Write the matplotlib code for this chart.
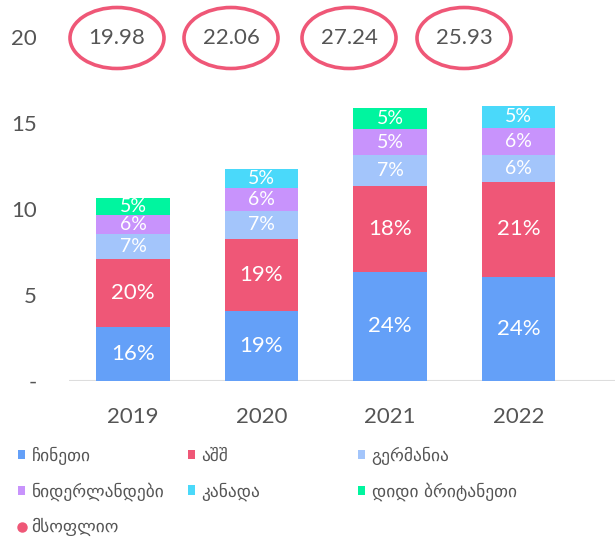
import matplotlib
matplotlib.use("Agg")
import matplotlib.pyplot as plt
from matplotlib.patches import Ellipse, Patch
from matplotlib.lines import Line2D
import numpy as np

years = ["2019", "2020", "2021", "2022"]
world = [19.98, 22.06, 27.24, 25.93]
china = [3.14, 4.07, 6.34, 6.05]
usa = [3.95, 4.19, 5.00, 5.52]
germany = [1.46, 1.62, 1.80, 1.57]
netherlands = [1.10, 1.34, 1.51, 1.57]
canada = [0.0, 1.10, 0.0, 1.28]
uk = [0.99, 0.0, 1.22, 0.0]

china_pct = ["16%", "19%", "24%", "24%"]
usa_pct = ["20%", "19%", "18%", "21%"]
germany_pct = ["7%", "7%", "7%", "6%"]
netherlands_pct = ["6%", "6%", "5%", "6%"]
canada_pct = ["", "5%", "", "5%"]
uk_pct = ["5%", "", "5%", ""]

names = ["ჩინეთი", "აშშ", "გერმანია", "ნიდერლანდები", "კანადა", "დიდი ბრიტანეთი", "მსოფლიო"]
yticks = [0, 5, 10, 15, 20]
ytick_labels = ["-", "5", "10", "15", "20"]

colors = ["#64A0F8", "#EF5777", "#A3C5FB", "#C893FC", "#4AD9FA", "#00F59F"]
world_color = "#EF5777"

plt.rcParams['font.family'] = ['Lato', 'DejaVu Sans']

W, H = 615, 540
fig = plt.figure(figsize=(W / 100, H / 100), dpi=100)
ax_left, ax_right, ax_bottom, ax_top = 69, 615, 381, 37
ax = fig.add_axes([ax_left / W, 1 - ax_bottom / H, (ax_right - ax_left) / W, (ax_bottom - ax_top) / H])

x = np.arange(len(years))
series = [china, usa, germany, netherlands, canada, uk]
pcts = [china_pct, usa_pct, germany_pct, netherlands_pct, canada_pct, uk_pct]
bottom = np.zeros(len(years))
for vals, lab, col in zip(series, pcts, colors):
    vals = np.array(vals)
    ax.bar(x, vals, 0.575, bottom=bottom, color=col, edgecolor="none")
    for i in range(len(years)):
        if vals[i] > 0 and lab[i]:
            ax.text(x[i], bottom[i] + vals[i] / 2, lab[i], ha="center", va="center",
                    color="white", fontsize=16 if vals[i] > 2.5 else 14)
    bottom += vals

ax.set_xlim(-64 / 128.5, (615 - 133) / 128.5)
ax.set_ylim(0, 20)
ax.set_xticks(x)
ax.set_xticklabels(years, fontsize=16, color="#555555")
ax.set_yticks(yticks)
ax.set_yticklabels(ytick_labels, fontsize=16, color="#555555")
ax.tick_params(length=0)
ax.tick_params(axis="x", pad=19)
ax.tick_params(axis="y", pad=23)
for s in ax.spines.values():
    s.set_visible(False)
ax.axhline(0, color="#DDDDDD", lw=1.5, zorder=0)

# world totals in ellipses
ell_cx = [117, 231, 349, 464]
for cx, val in zip(ell_cx, world):
    fx, fy = cx / W, 1 - 38 / H
    e = Ellipse((fx, fy), 94 / W, 61 / H, transform=fig.transFigure,
                facecolor="white", edgecolor=world_color, lw=2.6)
    fig.patches.append(e)
    fig.text(fx, fy, f"{val:.2f}", ha="center", va="center", fontsize=16, color="#555555")

# legend in three columns
handles = [Patch(facecolor=c, edgecolor="none") for c in colors]
handles.append(Line2D([], [], marker="o", linestyle="none", markersize=6.5,
                      markerfacecolor=world_color, markeredgecolor=world_color))
cols = [[0, 3, 6], [1, 4], [2, 5]]
col_x = [9, 179, 349]
for cx, idxs in zip(col_x, cols):
    leg = fig.legend([handles[i] for i in idxs], [names[i] for i in idxs],
                     loc="upper left", bbox_to_anchor=(cx / W, 1 - 438 / H),
                     frameon=False, handlelength=0.45, handleheight=0.45,
                     handletextpad=0.35, labelspacing=1.0, borderpad=0,
                     labelcolor="#555555", prop={'family': 'DejaVu Sans', 'size': 12.5})

fig.savefig("out.png", dpi=100)
